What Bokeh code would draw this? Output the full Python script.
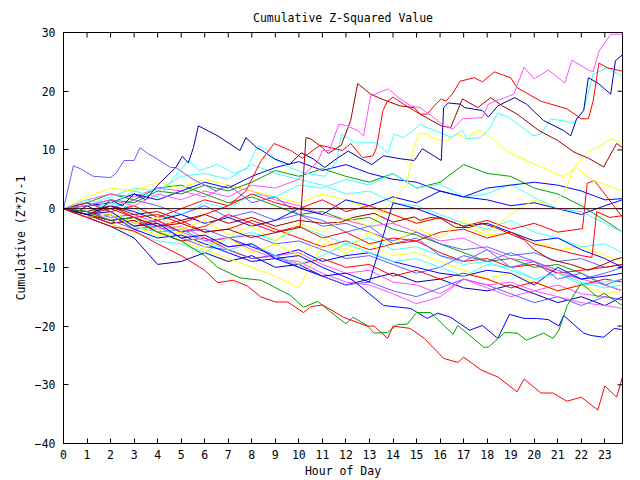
from bokeh.plotting import figure
from bokeh.models import Range1d, FixedTicker, Span
from bokeh.embed import file_html
from bokeh.resources import INLINE

# ---------------- data ----------------
HOURS = [0, 1, 2, 3, 4, 5, 6, 7, 8, 9, 10, 11, 12, 13, 14, 15, 16, 17, 18, 19, 20, 21, 22, 23, 23.75]

red_bottom_h = [0, 1, 2, 3, 4, 5, 6, 6.55, 7.22, 7.82, 8.37, 9.0, 9.52, 10.2, 10.5, 11.0, 11.9, 12.9, 13.2, 13.77, 14.0, 14.73, 15.33, 16.15, 16.75, 17.0, 17.75, 18.47, 19.27, 19.57, 20.28, 20.79, 21.39, 22.0, 22.7, 23.0, 23.5, 23.75]
red_bottom_v = [0, -1.5, -3, -3.8, -6, -8, -10.5, -12.6, -12.2, -13.2, -15.0, -15.9, -15.9, -17.7, -16.7, -16.4, -18.5, -20.0, -20.0, -22.1, -20.0, -20.4, -22.1, -25.5, -26.2, -25.3, -27.5, -28.7, -31.2, -29.0, -31.4, -31.4, -32.8, -32.1, -34.3, -30.2, -32.1, -28.7]

green_low_h = [0, 1, 2, 3, 4, 5, 6, 6.55, 7.5, 8.4, 9.65, 10.2, 10.8, 11.35, 12.0, 12.3, 12.9, 13.2, 13.77, 14.2, 14.6, 15.0, 15.6, 16.55, 16.75, 17.85, 18.05, 18.75, 19.27, 19.67, 20.4, 20.8, 21.05, 21.4, 22.0, 22.7, 22.95, 23.75]
green_low_v = [0, -0.5, -2, -1.5, -4, -5.5, -8, -10, -11.8, -12.2, -14.8, -16.8, -15.8, -17.6, -19.6, -18.5, -19.9, -21.2, -21.1, -19.7, -19.7, -17.7, -17.7, -21.4, -19.9, -23.6, -23.6, -21.1, -21.2, -22.4, -21.2, -22.1, -20.7, -16.5, -12.7, -15.1, -14.4, -16.5]

blue_low_h = [0, 1, 2, 3, 4, 5, 6, 7, 8, 9, 10, 11, 12.3, 13.6, 14.75, 15.45, 15.9, 16.45, 17.25, 17.8, 18.45, 18.95, 19.57, 20.1, 20.6, 21.05, 21.25, 22.1, 22.4, 22.95, 23.4, 23.75]
blue_low_v = [0, -1, -0.5, -3, -2.5, -5, -4.5, -6.5, -6, -8.5, -8, -10, -12.2, -16.5, -17, -18.7, -17.8, -18.5, -20.7, -19.9, -22.1, -18.0, -18.7, -18.7, -18.9, -20.0, -18.2, -21.2, -21.6, -21.9, -20.4, -20.6]

magenta_top_h = [0, 1, 2, 3, 4, 5, 6, 7, 8, 9, 10, 10.8, 11.0, 11.3, 11.7, 12.05, 12.5, 12.75, 13.05, 13.8, 14.3, 14.75, 15.15, 15.9, 16.15, 16.55, 16.95, 17.8, 18.05, 19.13, 19.57, 20.0, 20.6, 21.3, 21.6, 22.3, 22.5, 22.75, 23.25, 23.75]
magenta_top_v = [0, 0.5, 1.5, 0.5, 2.5, 1.5, 3, 2, 4, 3.5, 5, 8, 9.9, 9.9, 14.4, 14.1, 13.3, 12.4, 19.2, 20.4, 18.7, 17.5, 17.2, 15.0, 14.1, 13.6, 15.3, 15.5, 17.8, 19.5, 24.1, 22.1, 23.6, 21.4, 25.3, 23.6, 23.3, 26.8, 29.7, 29.7]

red_top_h = [0, 1, 2, 3, 4, 5, 6, 7, 7.75, 8.4, 8.95, 9.65, 10.15, 10.9, 11.85, 12.2, 12.7, 13.15, 13.3, 13.57, 13.77, 14.0, 14.45, 14.9, 15.15, 15.45, 15.75, 16.05, 16.25, 16.55, 16.85, 17.45, 17.8, 18.3, 19.0, 19.27, 20.28, 21.39, 22.0, 22.3, 22.5, 22.75, 23.1, 23.75]
red_top_v = [0, -1, 0, -1.5, -1, -2.5, -1, 0.5, 3, 8.2, 11.1, 9.9, 8.6, 10.8, 9.9, 11.1, 8.7, 9.0, 10.4, 16.7, 18.3, 19.0, 17.8, 16.7, 16.1, 16.1, 17.5, 18.7, 18.3, 19.7, 21.7, 22.3, 21.6, 23.3, 22.3, 20.6, 18.3, 17.0, 15.3, 15.3, 18.3, 24.8, 24.0, 23.4]

darkred_top_h = [0, 1, 2, 3, 4, 5, 6, 7, 7.95, 8.4, 9.1, 10.05, 10.3, 10.5, 11.0, 11.25, 11.8, 12.2, 12.5, 13.05, 13.5, 14.3, 14.9, 15.15, 16.05, 16.45, 16.95, 17.6, 18.15, 18.65, 19.27, 20.2, 21.0, 21.7, 22.3, 22.95, 23.5, 23.75]
darkred_top_v = [0, -1, -2, -1.5, -3, -2.5, -4, -3.5, -4.9, -4.6, -4, -3.2, 12.1, 11.9, 10.4, 9.4, 10.8, 15.0, 21.3, 19.5, 18.7, 17.5, 17.2, 16.1, 14.1, 13.8, 18.7, 17.2, 18.9, 17.5, 16.1, 13.3, 11.6, 9.6, 8.6, 7.1, 11.1, 10.4]

navy_top_h = [0, 0.5, 1, 1.5, 2, 2.5, 3, 3.5, 4, 4.77, 5.05, 5.3, 5.52, 5.73, 6.55, 7.5, 7.75, 8.2, 8.4, 8.95, 9.6, 10.1, 10.6, 11.1, 11.6, 12.1, 12.6, 13.1, 13.6, 14.3, 14.9, 15.25, 16.05, 16.15, 16.35, 16.85, 17.05, 17.8, 18.05, 18.45, 19.17, 19.67, 20.4, 21.25, 21.55, 21.8, 22.1, 22.3, 22.7, 23.25, 23.45, 23.75]
navy_top_v = [0, -0.8, 0.5, -0.5, 1.5, 0.5, 2.5, 1.5, 4, 7.0, 8.9, 7.8, 10.4, 14.1, 12.4, 9.9, 12.1, 10.4, 10.0, 8.5, 7.5, 9.5, 8.5, 7.0, 8.5, 9.8, 8.6, 7.5, 9.0, 8.5, 8.2, 10.2, 8.2, 17.2, 18.0, 17.8, 17.2, 16.7, 15.6, 17.5, 18.9, 17.8, 15.0, 13.3, 12.4, 15.3, 16.7, 22.3, 21.4, 19.5, 25.2, 26.2]

lightblue_top_h = [0, 0.42, 0.72, 1.27, 2.0, 2.25, 2.57, 3.0, 3.25, 3.57, 3.85, 4.55, 4.77, 5.5, 6.5, 7, 8, 9, 10, 11, 12, 13, 14, 15, 16, 17, 18, 19, 20, 21, 22, 23, 23.75]
lightblue_top_v = [0, 7.3, 6.8, 5.5, 5.3, 6.1, 8.2, 8.2, 10.4, 9.4, 8.8, 7.0, 7.0, 5, 3, 4, 1, 2, -1, -2, -4, -3, -6, -5, -8, -9, -7, -10, -9, -12, -11, -13, -12]

cyan_top_h = [0, 1, 2, 3, 4, 5.05, 5.3, 5.75, 6.55, 7.25, 7.8, 8.2, 8.3, 8.7, 8.95, 9.6, 10.3, 11.1, 11.6, 11.8, 12.4, 13.3, 13.77, 14.05, 14.45, 14.85, 15.15, 15.45, 16.05, 16.45, 16.95, 17.15, 17.7, 18.05, 18.45, 18.95, 19.67, 19.95, 20.28, 20.7, 21.7, 22.1, 22.5, 23.1, 23.4, 23.75]
cyan_top_v = [0, 1.5, 0.5, 3, 2, 7.0, 8.2, 6.5, 7.5, 6, 6.8, 10.4, 10.7, 9.9, 8.5, 7, 6, 5.5, 8, 12.7, 11.2, 11.2, 9.5, 12.7, 12.1, 13.3, 14.4, 13.8, 12.9, 12.1, 13.3, 11.9, 12.1, 13.3, 16.3, 15.5, 13.3, 12.4, 12.7, 15.3, 14.6, 16.8, 22.9, 24.0, 23.3, 22.6]

yellow_a_h = [0, 1, 2, 3, 4, 5, 6, 7, 8, 9, 10, 11, 12, 13, 13.9, 14.6, 14.85, 15.1, 15.45, 15.7, 16.15, 16.75, 17.15, 17.6, 18.05, 18.45, 18.95, 19.4, 20.6, 21.2, 21.8, 22.4, 23.2, 23.75]
yellow_a_v = [0, -1, -0.5, -2.5, -1.5, -3.5, -2, -4.5, -3, -5.5, -2.5, -4, -1.5, -3, 1, 4.2, 10, 12.8, 12.7, 12.0, 11.5, 12.7, 11.9, 13.4, 12.5, 11.0, 9.5, 8.7, 6.5, 5.5, 7, 5, 3.8, 3]

yellow_b_h = [0, 1, 2, 3, 4, 5, 6, 7, 8, 9, 10, 11, 12, 13, 14, 15, 16, 17, 18, 19, 20, 20.7, 21.3, 21.7, 22.3, 22.7, 23.25, 23.5, 23.75]
yellow_b_v = [0, -1.5, -1, -3, -4.5, -4, -6.5, -5, -7.5, -6, -8, -5, -7, -4, -6, -3.5, -5, -2, -4, -1, 1.5, 0.5, 3, 7, 9.8, 10.4, 11.9, 11.6, 11.0]

darkred_mid_h = [0, 1, 2, 3, 4, 5, 6, 7, 8, 9, 10, 11, 11.8, 12.3, 13.2, 14.0, 14.9, 15.15, 15.6, 16.05, 16.65, 17.25, 17.75, 18.35, 19.15, 19.57, 20.0, 20.7, 21.55, 22.3, 22.95, 23.4, 23.75]
darkred_mid_v = [0, -0.5, 0.5, -1, -0.5, -2, -1, -2.5, -1.5, -3, -2, -2.5, -2.3, -1.5, -0.8, -2.3, -1.4, -2.0, -1.5, -1.7, -3.2, -3.2, -2.5, -3.2, -4.6, -5.3, -7.0, -8.7, -9.5, -10.5, -9.5, -8.7, -8.3]

red_mid_h = [0, 1, 2, 3, 4, 5, 6, 7, 8, 9, 10, 11, 12, 13, 14, 15, 16, 17, 18, 19, 20, 21, 22, 22.45, 22.65, 23.2, 23.75]
red_mid_v = [0, -1.5, -1, -3, -2, -4, -3, -1, -2.5, -4, -3, -5, -4, -6, -5, -5.5, -4, -3.5, -5, -4, -6, -7, -8, -8.3, -0.5, -1.5, -1.2]

red_mid2_h = [0, 1, 2, 3, 4, 5, 6, 7, 8, 9, 10, 11, 12, 13, 14, 15, 16, 17, 18, 19, 20, 21, 22.05, 22.25, 22.55, 22.9, 23.75]
red_mid2_v = [0, 1, -0.5, 0.5, -1.5, 0, 1.5, 0.5, 2.5, 1, 0, 1.5, -0.5, 0.5, -1, -2.5, -1.5, -3, -2, -3.5, -2.5, -4, -3.4, 4.3, 4.8, 3, -1.5]

# series sampled hourly (HOURS)
green_a = [0, 0.5, 1.5, 1, 3, 2.5, 4, 3, 4.5, 6.5, 5.5, 6.8, 5.5, 4.5, 6, 3.5, 4.5, 7.5, 6, 5.5, 3.5, 2.5, 0.5, -2, -4]
green_b = [0, 1, 2.5, 1.5, 3.5, 4, 2.5, 1, 2, 0.5, -1, -0.5, -2, -1.5, -3.5, -4.5, -6, -7.5, -9, -8.5, -10, -9.5, -11, -13, -14]
magenta_a = [0, -0.5, -2, -1.5, -3.5, -3, -5, -6.5, -6, -8, -7.5, -9.5, -11, -10.5, -12.5, -13, -14.5, -12, -13.5, -15, -14, -13, -14.5, -15, -15.6]
magenta_b = [0, -1, -0.5, -2.5, -2, -4, -5.5, -5, -7, -8.5, -9, -11, -12.5, -13, -14.5, -16.2, -15, -12, -13, -12.5, -14, -15, -16, -16.5, -17]
magenta_c = [0, 1.5, 2.5, 2, 3.5, 3, 2, 4, 3, 1.5, 0.5, -1, -2, -3, -2.5, -4, -5.5, -5, -7, -8.5, -9, -11, -12, -13, -14]
cyan_a = [0, -0.5, 1, 0, -1.5, -1, 1, 0, 2.5, 2, 4, 3.5, 5, 4, 6, 3.5, 4.2, 2, 2.5, 4.2, 1.9, 0, -0.5, -2.5, -4]
cyan_b = [0, -1.5, -1, -3, -4, -3.5, -5.5, -7, -6, -8, -9.5, -8, -6, -7.5, -9, -8.5, -10, -11.5, -9.5, -10, -12, -11, -13, -12.5, -12]
cyan_c = [0, 0.5, 2, 3.5, 3, 5.5, 6, 5, 7.5, 6, 5, 4, 2.5, 3, 1, 0.5, -1, -2.5, -3.5, -2, -4, -5, -6.5, -6, -7.5]
cyan_d = [0, -1, -2.5, -4, -5.5, -6, -7.5, -5, -4, -5.5, -3, -4.5, -6, -5, -7, -6.5, -8, -9.5, -9, -10.5, -12, -11, -12.5, -13.5, -13]
blue_a = [0, -1, 0.5, -0.5, -2, -1, -2.5, -1.5, -3, -2, 0, -1, 1.5, 0.5, 2, 1, 3, 2, 3.5, 4, 4.5, 4, 3, 1.5, 1.7]
blue_b = [0, -1, -2.5, -2, -4, -3.5, -5.5, -5, -6.5, -8, -7, -9, -8, -7.5, -9, -10, -11, -11.5, -10.5, -11, -13, -10, -12, -11.5, -11]
blue_c = [0, -1.5, -1, -3.5, -5, -4.5, -6, -7.5, -9, -8.5, -10, -11.5, -11, -12.5, 1, 0, -1.5, -3, -2.5, -4, -5.5, -5, -7, -8.5, -10]
blue_d = [0, 0.5, 1, 2.5, 1.5, 3, 4.5, 3.5, 5.5, 7, 8, 6.5, 7.5, 6, 5, 4.5, 3, 2, 1.5, 0.5, 1, 0, -1, 0.5, 1.5]
slate_a = [0, -1, -2, -3.5, -3, -5, -6.5, -7, -8.5, -8, -10, -11.5, -13, -12.5, -14, -15, -13.5, -12, -13, -14.5, -16, -15, -16.5, -15, -15.5]
slate_b = [0, -0.5, -1.5, -1, -2.5, -4, -3.5, -5, -4.5, -6, -5.5, -7, -8.5, -8, -9.5, -11, -10, -8, -9, -7.5, -9, -10.5, -12, -11, -10]
slate_c = [0, 1, 0, 1.5, 0.5, -1, 0.5, -1.5, -0.5, -2, -1, -3, -2.5, -4, -5.5, -4, -6, -7, -6.5, -8, -7.5, -9, -8.5, -10, -9.5]
navy_a = [0, -1.5, -3, -5, -9.5, -9, -7.5, -9, -8, -10, -9.5, -11.5, -13, -12, -11, -12.5, -12, -13.5, -14, -13, -14.5, -16, -15, -16.5, -15]
red_a = [0, -1, 0.5, -1.5, -3, -2, -4, -3.5, -2, -3.5, -5, -6.5, -5.5, -7, -6, -5.5, -7.5, -9, -8.5, -10, -9.5, -11, -10.5, -10, -9.5]
red_b = [0, -1, -2.5, -2, -4, -5.5, -5, -7, -8.5, -8, -9.5, -8.5, -10, -9.5, -11.5, -10.5, -12, -11, -12, -13.5, -12.5, -14, -13, -12, -12.5]
yellow_c = [0, -1, -2.5, -4, -3.5, -5.5, -7, -8.5, -10, -11.5, -13.5, -6, -7.5, -6, -8, -7.5, -9, -10.5, -12, -11, -12.5, -14, -13, -14.5, -14]
yellow_d = [0, 2, 3.5, 3, 4.5, 3.5, 5, 4, 3, 2, 1, 2.5, 1.5, 0, -1, -2.5, -1.5, -3, -4.5, -4, -5.5, -7, -6.5, -8, -9]

Y_TICKS = [-40, -30, -20, -10, 0, 10, 20, 30]
X_TICKS = list(range(24))
X_MIN, X_MAX = 0, 23.75
Y_MIN, Y_MAX = -40, 30

# ---------------- colours ----------------
RED = "#ff0000"
GREEN = "#00a000"
BLUE = "#0000ff"
MAGENTA = "#ff50ff"
CYAN = "#40ffff"
DARKRED = "#a00000"
YELLOW = "#ffff00"
SLATE = "#6060ff"
NAVY = "#0000b0"

series = [
    (HOURS, green_b, GREEN), (HOURS, magenta_c, MAGENTA), (HOURS, cyan_c, CYAN),
    (HOURS, yellow_d, YELLOW), (HOURS, slate_c, SLATE), (HOURS, blue_d, BLUE),
    (HOURS, red_a, RED), (HOURS, navy_a, NAVY), (HOURS, cyan_d, CYAN),
    (HOURS, slate_b, SLATE), (HOURS, magenta_a, MAGENTA), (HOURS, yellow_c, YELLOW),
    (HOURS, blue_b, BLUE), (HOURS, red_b, RED), (HOURS, slate_a, SLATE),
    (HOURS, magenta_b, MAGENTA), (HOURS, cyan_b, CYAN), (HOURS, blue_c, BLUE),
    (HOURS, green_a, GREEN), (HOURS, cyan_a, CYAN), (HOURS, blue_a, BLUE),
    (darkred_mid_h, darkred_mid_v, DARKRED), (red_mid_h, red_mid_v, RED),
    (red_mid2_h, red_mid2_v, RED), (yellow_b_h, yellow_b_v, YELLOW),
    (yellow_a_h, yellow_a_v, YELLOW), (lightblue_top_h, lightblue_top_v, SLATE),
    (cyan_top_h, cyan_top_v, CYAN), (navy_top_h, navy_top_v, NAVY),
    (darkred_top_h, darkred_top_v, DARKRED), (red_top_h, red_top_v, RED),
    (magenta_top_h, magenta_top_v, MAGENTA), (blue_low_h, blue_low_v, BLUE),
    (green_low_h, green_low_v, GREEN), (red_bottom_h, red_bottom_v, RED),
]

FONT = "DejaVu Sans Mono"
FS = "11.5px"
W, H = 640, 480
ML, MR, MT, MB = 63, 18, 32, 36
TICK_PX = 5

p = figure(width=W, height=H, output_backend="svg", toolbar_location=None,
           x_range=Range1d(X_MIN, X_MAX), y_range=Range1d(Y_MIN, Y_MAX),
           min_border_left=ML, min_border_right=MR, min_border_top=MT, min_border_bottom=MB,
           title="Cumulative Z-Squared Value")
p.background_fill_color = "white"
p.border_fill_color = "white"
p.grid.visible = False
p.outline_line_color = "black"
p.outline_line_width = 1
p.outline_line_alpha = 1

p.title.align = "center"
p.title.text_font = FONT
p.title.text_font_size = FS
p.title.text_font_style = "normal"
p.title.text_color = "black"
p.title.standoff = 15

for (hx, vy, col) in series:
    n = min(len(hx), len(vy))
    p.line(hx[:n], vy[:n], line_color=col, line_width=1)

p.add_layout(Span(location=0, dimension="width", line_color="#300000", line_width=1))

# mirrored (inward) ticks on top and right edges, as in the reference
dx = TICK_PX * (X_MAX - X_MIN) / (W - ML - MR)
dy = TICK_PX * (Y_MAX - Y_MIN) / (H - MT - MB)
p.segment(x0=X_TICKS, y0=[Y_MAX] * len(X_TICKS), x1=X_TICKS, y1=[Y_MAX - dy] * len(X_TICKS),
          line_color="black", line_width=1)
p.segment(x0=[X_MAX] * len(Y_TICKS), y0=Y_TICKS, x1=[X_MAX - dx] * len(Y_TICKS), y1=Y_TICKS,
          line_color="black", line_width=1)

def style_axis(ax):
    ax.major_tick_in = TICK_PX
    ax.major_tick_out = 0
    ax.minor_tick_line_color = None
    ax.axis_line_color = "black"
    ax.major_tick_line_color = "black"
    ax.major_label_text_font = FONT
    ax.major_label_text_font_size = FS
    ax.major_label_text_color = "black"
    ax.axis_label_text_font = FONT
    ax.axis_label_text_font_size = FS
    ax.axis_label_text_font_style = "normal"
    ax.axis_label_text_color = "black"

xa = p.xaxis[0]
xa.ticker = FixedTicker(ticks=X_TICKS)
xa.axis_label = "Hour of Day"
style_axis(xa)
xa.major_label_standoff = 6
xa.axis_label_standoff = 2

ya = p.yaxis[0]
ya.ticker = FixedTicker(ticks=Y_TICKS)
ya.axis_label = "Cumulative (Z*Z)-1"
style_axis(ya)
ya.major_label_standoff = 8
ya.axis_label_standoff = 4

open("out.html", "w").write(file_html(p, INLINE))
